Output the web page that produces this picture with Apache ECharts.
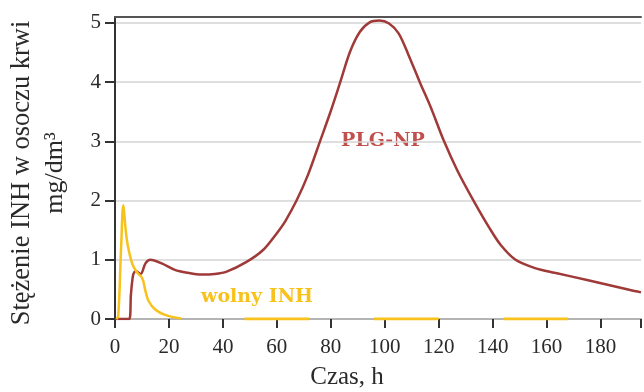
<!DOCTYPE html>
<html>
<head>
<meta charset="utf-8">
<script src="https://cdn.jsdelivr.net/npm/echarts@6/dist/echarts.min.js"></script>
<style>
  html, body { margin: 0; padding: 0; background: #fff; }
  #chart { width: 644px; height: 392px; }
</style>
</head>
<body>
<div id="chart"></div>
<script>
// czas (h) i stężenie (mg/dm3)
const plgTime = [0, 5.3, 5.9, 6.75, 7.7, 9.5, 11.3, 13.1, 17.3, 22.2, 27, 32, 37, 41.4, 48.6, 55, 60, 63.1,
  67.3, 71.5, 76, 79.9, 83.5, 87.1, 90.8, 94.4, 98, 101.6, 105.2, 108.8, 113, 117.2, 122, 127, 132.9,
  138.9, 143, 148.5, 155.7, 163, 175, 191, 195];
const plgValues = [0, 0, 0.41, 0.75, 0.81, 0.76, 0.94, 1.0, 0.94, 0.83, 0.78, 0.75, 0.76, 0.80, 0.96, 1.17, 1.45, 1.65,
  2.0, 2.43, 3.0, 3.5, 4.0, 4.51, 4.85, 5.01, 5.04, 4.99, 4.82, 4.46, 4.0, 3.56, 3.0, 2.5, 2.0,
  1.53, 1.25, 1.0, 0.86, 0.78, 0.66, 0.49, 0.45];

const inhTime = [0.5, 1.2, 2.3, 3.1, 3.9, 4.7, 6.5, 8.3, 10.1, 11.3, 12.5, 14.9, 18.5, 24.5];
const inhValues = [0, 0.05, 1.25, 1.92, 1.53, 1.25, 0.92, 0.78, 0.69, 0.47, 0.30, 0.16, 0.07, 0.01];

// odcinki wolnego INH na poziomie zera
const inhZeroRanges = [[48, 72], [96, 120], [144, 168]];

const xTicks = [0, 20, 40, 60, 80, 100, 120, 140, 160, 180];
const yTicks = [0, 1, 2, 3, 4, 5];

const RED = '#a03a38';
const YELLOW = '#f8c21c';
const FONT = '"Liberation Serif", "DejaVu Serif", serif';
const LABEL_FONT = '"DejaVu Serif", serif';

const plgData = plgTime.map((t, i) => [t, plgValues[i]]);
const inhData = inhTime.map((t, i) => [t, inhValues[i]]);
const zeroData = [];
inhZeroRanges.forEach(([a, b], i) => {
  if (i > 0) zeroData.push([a, '-']);
  zeroData.push([a, 0], [b, 0]);
});

const chart = echarts.init(document.getElementById('chart'));
chart.setOption({
  animation: false,
  backgroundColor: '#fff',
  grid: { left: 115, top: 17, right: -11, bottom: 73, containLabel: false },
  xAxis: [
    {
      type: 'value',
      min: 0,
      max: 195,
      interval: 20,
      axisLine: { show: true, lineStyle: { color: '#b4b4b4', width: 2 } },
      axisTick: { show: true, length: 9, lineStyle: { color: '#333', width: 2 } },
      axisLabel: {
        margin: 18,
        color: '#2a2a2a',
        fontFamily: FONT,
        fontSize: 21,
        formatter: v => (xTicks.includes(v) ? String(v) : '')
      },
      splitLine: { show: false }
    },
    {
      type: 'value',
      position: 'top',
      min: 0,
      max: 195,
      axisLine: { show: true, lineStyle: { color: '#555', width: 2 } },
      axisTick: { show: false },
      axisLabel: { show: false },
      splitLine: { show: false }
    }
  ],
  yAxis: {
    type: 'value',
    min: 0,
    max: 5.1,
    interval: 1,
    axisLine: { show: true, lineStyle: { color: '#333', width: 2 } },
    axisTick: { show: true, length: 10, lineStyle: { color: '#333', width: 2 }, customValues: yTicks },
    axisLabel: {
      margin: 14,
      color: '#2a2a2a',
      fontFamily: FONT,
      fontSize: 21,
      customValues: yTicks
    },
    splitLine: { show: true, lineStyle: { color: '#d4d4d4', width: 1.5 } }
  },
  series: [
    {
      name: 'PLG-NP',
      type: 'line',
      data: plgData,
      smooth: 0.3,
      showSymbol: false,
      lineStyle: { color: RED, width: 2.5 },
      itemStyle: { color: RED },
      z: 3
    },
    {
      name: 'wolny INH',
      type: 'line',
      data: inhData,
      smooth: 0.4,
      showSymbol: false,
      lineStyle: { color: YELLOW, width: 2.5 },
      itemStyle: { color: YELLOW },
      z: 4
    },
    {
      name: 'wolny INH 0',
      type: 'line',
      data: zeroData,
      showSymbol: false,
      connectNulls: false,
      lineStyle: { color: YELLOW, width: 3 },
      itemStyle: { color: YELLOW },
      z: 4
    }
  ],
  graphic: [
    {
      type: 'text',
      x: 22,
      y: 173,
      rotation: Math.PI / 2,
      style: {
        text: 'Stężenie INH w osoczu krwi',
        fontFamily: FONT,
        fontSize: 26.5,
        fill: '#2a2a2a',
        align: 'center',
        verticalAlign: 'middle'
      }
    },
    {
      type: 'text',
      x: 55,
      y: 173,
      rotation: Math.PI / 2,
      style: {
        text: 'mg/dm³',
        fontFamily: FONT,
        fontSize: 26,
        fill: '#2a2a2a',
        align: 'center',
        verticalAlign: 'middle'
      }
    },
    {
      type: 'text',
      x: 347,
      y: 377,
      style: {
        text: 'Czas, h',
        fontFamily: FONT,
        fontSize: 25,
        fill: '#2a2a2a',
        align: 'center',
        verticalAlign: 'middle'
      }
    },
    {
      type: 'text',
      x: 383,
      y: 141,
      style: {
        text: 'PLG-NP',
        fontFamily: LABEL_FONT,
        fontSize: 19,
        fontWeight: 'bold',
        fill: '#c0504d',
        align: 'center',
        verticalAlign: 'middle'
      }
    },
    {
      type: 'text',
      x: 257,
      y: 297,
      style: {
        text: 'wolny INH',
        fontFamily: LABEL_FONT,
        fontSize: 19,
        fontWeight: 'bold',
        fill: YELLOW,
        align: 'center',
        verticalAlign: 'middle'
      }
    }
  ]
});
</script>
</body>
</html>
